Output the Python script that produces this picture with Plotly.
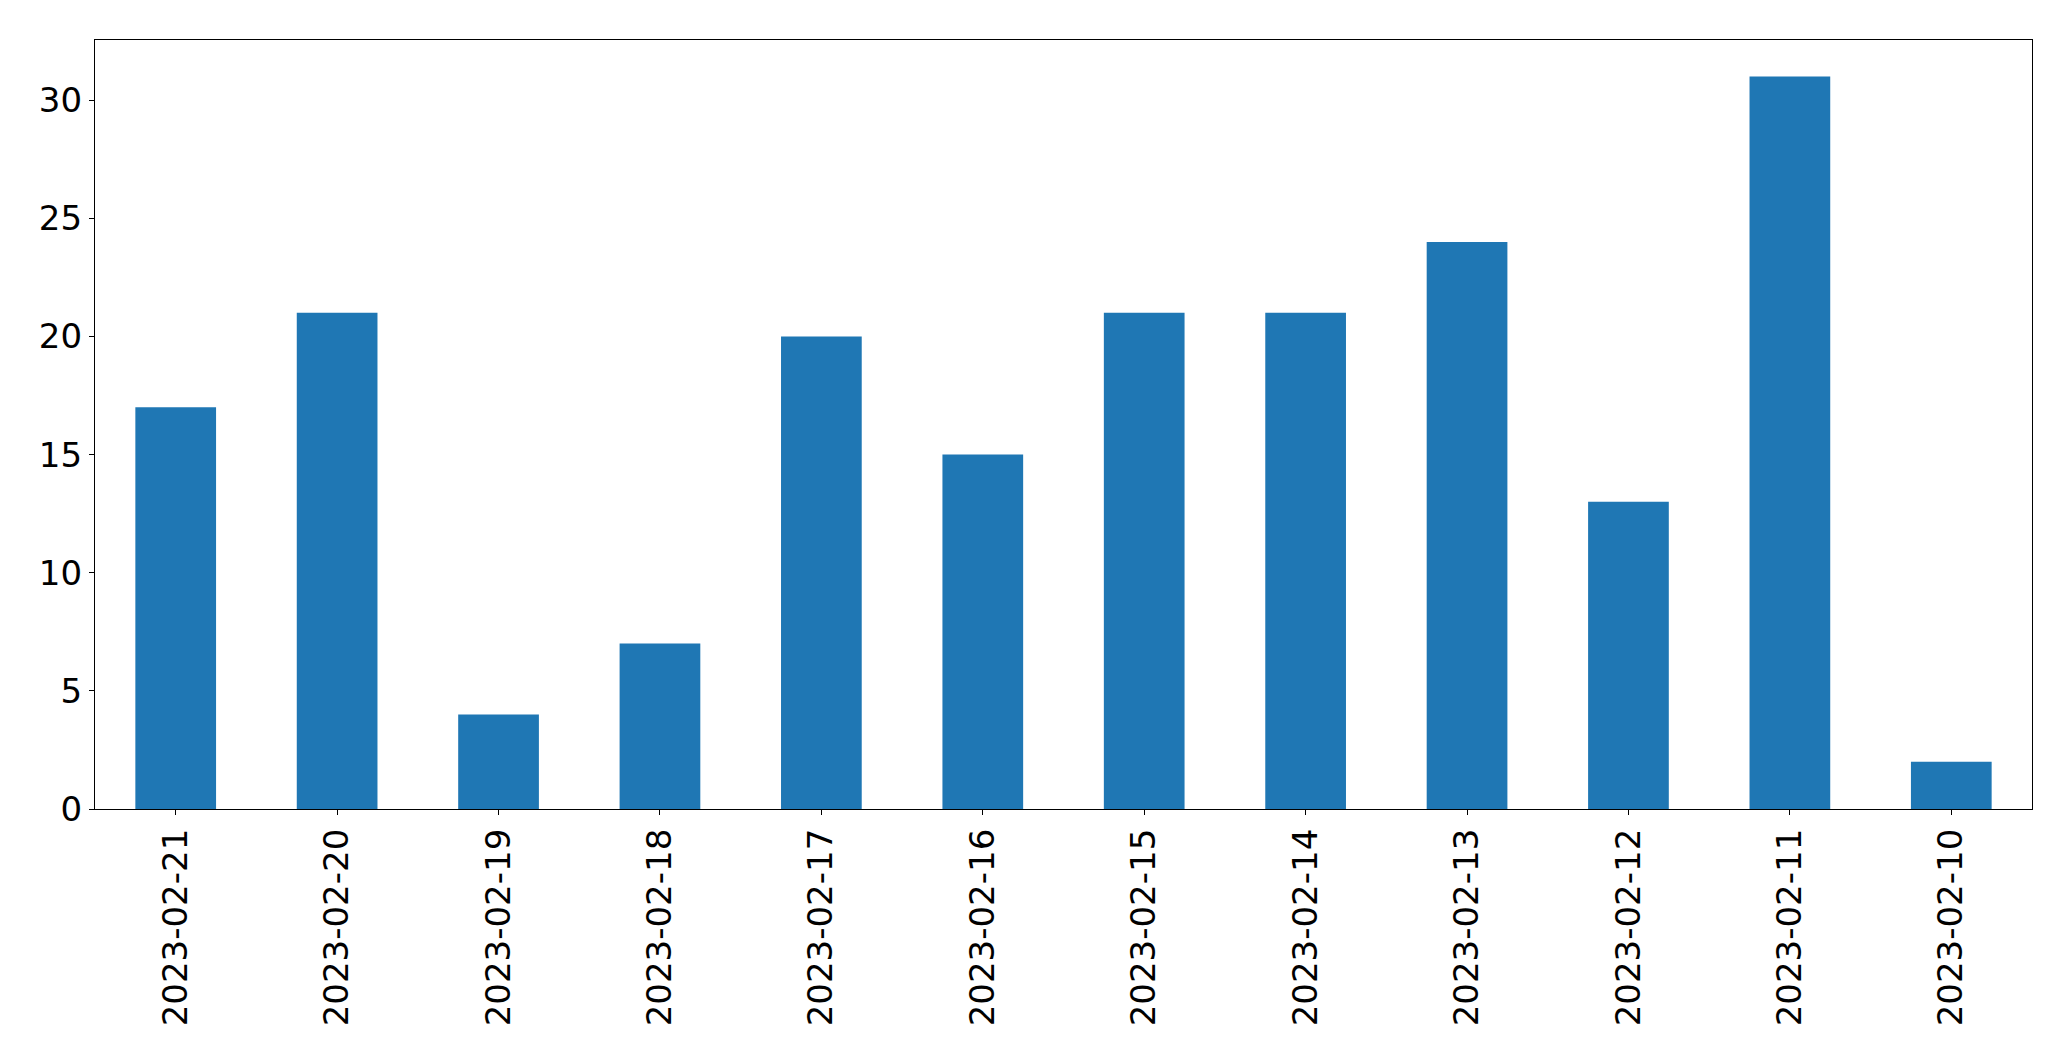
import plotly.graph_objects as go

dates = ["2023-02-21", "2023-02-20", "2023-02-19", "2023-02-18", "2023-02-17", "2023-02-16",
         "2023-02-15", "2023-02-14", "2023-02-13", "2023-02-12", "2023-02-11", "2023-02-10"]
counts = [17, 21, 4, 7, 20, 15, 21, 21, 24, 13, 31, 2]

fig = go.Figure(go.Bar(x=dates, y=counts, marker=dict(color="#1f77b4", line=dict(width=0)), width=0.5))

# page body has an 8px default margin; compensate
OFF = 8
W, H = 2071, 1061
L, R, T, B = 94.7, 2031.7, 39.5, 809.3
fig.update_layout(
    width=W - OFF, height=H - OFF,
    margin=dict(l=L - OFF, r=W - R, t=T - OFF, b=H - B, pad=0),
    paper_bgcolor="white", plot_bgcolor="white",
    font=dict(family="DejaVu Sans", size=34, color="black"),
    showlegend=False,
)
fig.update_xaxes(
    type="category", range=[-0.5, len(dates) - 0.5], tickangle=-90,
    showline=True, mirror=True, linecolor="black", linewidth=1.3,
    ticks="outside", ticklen=5, tickwidth=1.3, tickcolor="black",
    showgrid=False, zeroline=False, ticklabelstandoff=0,
)
fig.update_yaxes(
    range=[0, max(counts) * 1.05], tickvals=[0, 5, 10, 15, 20, 25, 30],
    showline=True, mirror=True, linecolor="black", linewidth=1.3,
    ticks="outside", ticklen=5, tickwidth=1.3, tickcolor="black",
    showgrid=False, zeroline=False, ticklabelstandoff=0,
)
fig.write_html("out.html")
